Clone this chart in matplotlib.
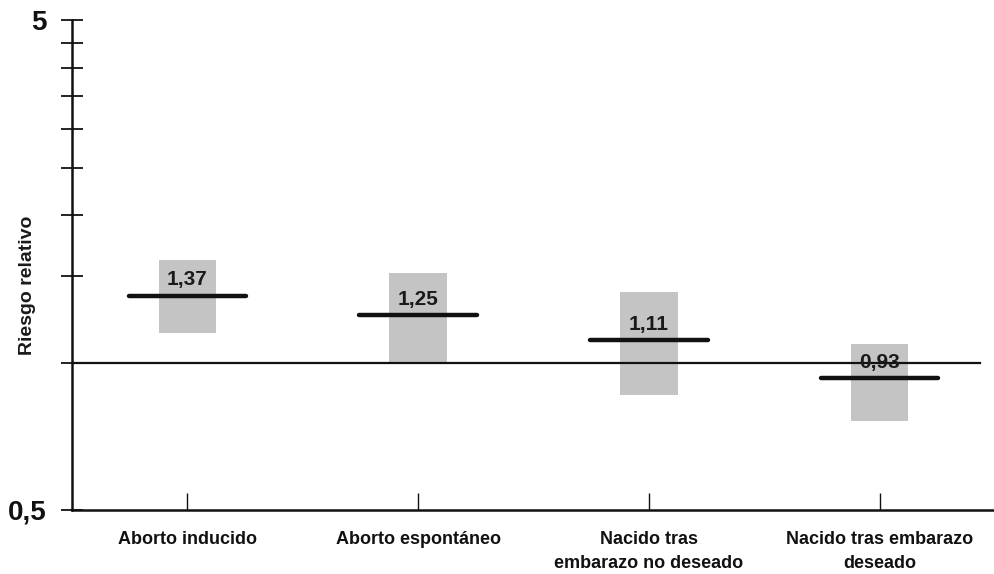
import matplotlib
matplotlib.use("Agg")
import matplotlib.pyplot as plt
from matplotlib.ticker import FixedLocator, NullFormatter
import numpy as np

plt.rcParams['font.family'] = ['Liberation Sans', 'DejaVu Sans']

categories = ["Aborto inducido", "Aborto espontáneo",
              "Nacido tras\nembarazo no deseado", "Nacido tras embarazo\ndeseado"]
rr = [1.37, 1.25, 1.11, 0.93]
rr_labels = ["1,37", "1,25", "1,11", "0,93"]
ci_low = [1.15, 1.00, 0.86, 0.76]
ci_high = [1.62, 1.52, 1.39, 1.09]
major_ticks = [0.5, 5]
major_labels = ["0,5", "5"]
minor_ticks = [1, 1.5, 2, 2.5, 3, 3.5, 4, 4.5]

fig = plt.figure(figsize=(9.95, 5.74), dpi=100)
ax = fig.add_axes([0.0724, 0.1115, 0.9276, 0.8535])
ax.set_yscale('log')
ax.set_ylim(0.5, 5)
ax.set_xlim(-0.5, 3.5)

x = np.arange(len(categories))
box_w = 0.25
line_w = 0.51
for xi, lo, hi, v, lab in zip(x, ci_low, ci_high, rr, rr_labels):
    ax.bar(xi, hi - lo, bottom=lo, width=box_w, color='#c4c4c4',
           edgecolor='none', zorder=1)
    ax.plot([xi - line_w / 2, xi + line_w / 2], [v, v], color='#111111',
            lw=3.2, solid_capstyle='round', zorder=3)
    ax.text(xi, v * 1.03, lab, ha='center', va='bottom', fontsize=15,
            fontweight='bold', color='#1a1a1a', zorder=4)

# reference line at RR = 1
ax.axhline(1, xmin=0, xmax=0.984, color='#111111', lw=1.6, zorder=2)

for s in ['top', 'right']:
    ax.spines[s].set_visible(False)
for s in ['left', 'bottom']:
    ax.spines[s].set_linewidth(1.8)
    ax.spines[s].set_color('#111111')

ax.yaxis.set_major_locator(FixedLocator(major_ticks))
ax.set_yticklabels(major_labels)
ax.yaxis.set_minor_locator(FixedLocator(minor_ticks))
ax.yaxis.set_minor_formatter(NullFormatter())
ax.tick_params(axis='y', which='major', direction='inout', length=16, width=1.3,
               labelsize=20, pad=10, colors='#111111')
ax.tick_params(axis='y', which='minor', direction='inout', length=16, width=1.3,
               colors='#111111')
for t in ax.get_yticklabels():
    t.set_fontweight('bold')

ax.set_xticks(x)
ax.set_xticklabels(categories, fontsize=13, fontweight='bold', linespacing=1.55)
ax.tick_params(axis='x', direction='in', length=12, width=1.0, pad=15,
               colors='#111111')

fig.text(28 / 995, 1 - 285 / 574, "Riesgo relativo", rotation=90,
         ha='center', va='center', fontsize=14, fontweight='bold',
         color='#1a1a1a')

fig.savefig("out.png", dpi=100, facecolor='white')
